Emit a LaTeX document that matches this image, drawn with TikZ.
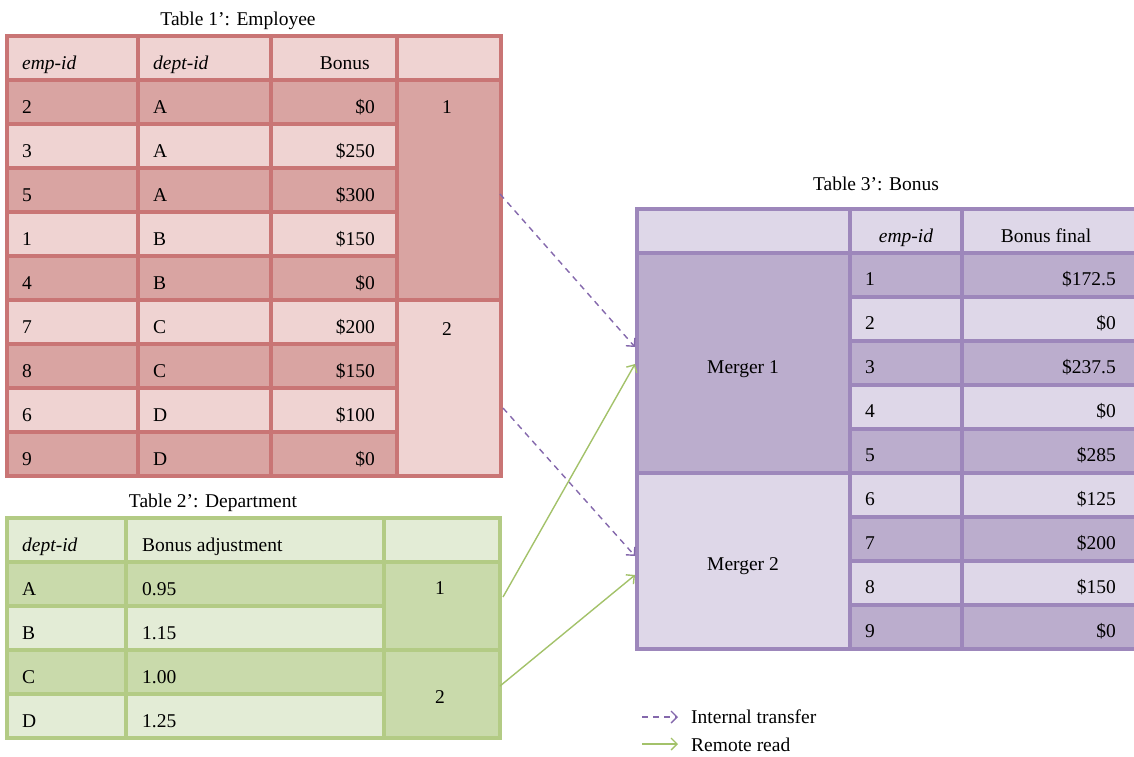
\documentclass[tikz,border=0pt]{standalone}
\usepackage{fontspec}
\setmainfont{Liberation Serif}
\usetikzlibrary{arrows.meta}
\definecolor{redline}{HTML}{C97575}
\definecolor{redlight}{HTML}{EFD3D2}
\definecolor{reddark}{HTML}{D9A4A2}
\definecolor{grnline}{HTML}{B3CB85}
\definecolor{grnlight}{HTML}{E3ECD6}
\definecolor{grndark}{HTML}{C9DAAB}
\definecolor{purline}{HTML}{9D87BB}
\definecolor{purlight}{HTML}{DED7E8}
\definecolor{purdark}{HTML}{BBADCD}
\definecolor{arrpur}{HTML}{8468AC}
\definecolor{arrgrn}{HTML}{A3C26A}
\begin{document}
\begin{tikzpicture}[x=1pt,y=-1pt,
  font=\fontsize{19.5}{23}\selectfont,
  txt/.style={inner sep=0pt, text=black, anchor=base},
  lt/.style={txt, anchor=base west},
  rt/.style={txt, anchor=base east},
  redcell/.style={draw=redline, line width=3.2pt},
  grncell/.style={draw=grnline, line width=3.2pt},
  purcell/.style={draw=purline, line width=3.2pt},
  transfer/.style={draw=arrpur, line width=1.4pt, dash pattern=on 6pt off 5pt,
    -{Straight Barb[length=6pt,width=12pt,line width=1.4pt]}},
  remote/.style={draw=arrgrn, line width=1.4pt,
    -{Straight Barb[length=6pt,width=12pt,line width=1.4pt]}}]
\useasboundingbox (0,0) rectangle (1134,756);

% ---------- Table 1': Employee ----------
\node[txt] (t1title) at (238,25) {Table 1’: Employee};
\filldraw[redcell, fill=redlight] (7,36) rectangle (138,80);
\filldraw[redcell, fill=redlight] (138,36) rectangle (271,80);
\filldraw[redcell, fill=redlight] (271,36) rectangle (397,80);
\filldraw[redcell, fill=redlight] (397,36) rectangle (501,80);
\node[lt] (t1h1) at (22,69) {\itshape emp-id};
\node[lt] (t1h2) at (153,69) {\itshape dept-id};
\node[rt] (t1h3) at (370,69) {Bonus};
\foreach \e/\d/\b [count=\i] in {2/A/0,3/A/250,5/A/300,1/B/150,4/B/0,7/C/200,8/C/150,6/D/100,9/D/0}{
  \pgfmathsetmacro\yt{80+44*(\i-1)}
  \pgfmathsetmacro\yb{\yt+44}
  \pgfmathsetmacro\ym{\yt+33}
  \ifodd\i\relax\def\fc{reddark}\else\def\fc{redlight}\fi
  \filldraw[redcell, fill=\fc] (7,\yt) rectangle (138,\yb);
  \filldraw[redcell, fill=\fc] (138,\yt) rectangle (271,\yb);
  \filldraw[redcell, fill=\fc] (271,\yt) rectangle (397,\yb);
  \node[lt] (t1e\i) at (22,\ym) {\e};
  \node[lt] (t1d\i) at (153,\ym) {\d};
  \node[rt] (t1b\i) at (375,\ym) {\$\b};
}
\filldraw[redcell, fill=reddark] (397,80) rectangle (501,300);
\filldraw[redcell, fill=redlight] (397,300) rectangle (501,476);
\node[txt] (t1g1) at (447,113) {1};
\node[txt] (t1g2) at (447,335) {2};

% ---------- Table 2': Department ----------
\node[txt] (t2title) at (213,507) {Table 2’: Department};
\filldraw[grncell, fill=grnlight] (7,518) rectangle (126,562);
\filldraw[grncell, fill=grnlight] (126,518) rectangle (384,562);
\filldraw[grncell, fill=grnlight] (384,518) rectangle (500,562);
\node[lt] (t2h1) at (22,551) {\itshape dept-id};
\node[lt] (t2h2) at (142,551) {Bonus adjustment};
\foreach \d/\a [count=\i] in {A/0.95,B/1.15,C/1.00,D/1.25}{
  \pgfmathsetmacro\yt{562+44*(\i-1)}
  \pgfmathsetmacro\yb{\yt+44}
  \pgfmathsetmacro\ym{\yt+33}
  \ifodd\i\relax\def\fc{grndark}\else\def\fc{grnlight}\fi
  \filldraw[grncell, fill=\fc] (7,\yt) rectangle (126,\yb);
  \filldraw[grncell, fill=\fc] (126,\yt) rectangle (384,\yb);
  \node[lt] (t2d\i) at (22,\ym) {\d};
  \node[lt] (t2a\i) at (142,\ym) {\a};
}
\filldraw[grncell, fill=grndark] (384,562) rectangle (500,650);
\filldraw[grncell, fill=grndark] (384,650) rectangle (500,738);
\node[txt] (t2g1) at (440,594) {1};
\node[txt] (t2g2) at (440,703) {2};

% ---------- Table 3': Bonus ----------
\node[txt] (t3title) at (876,190) {Table 3’: Bonus};
\filldraw[purcell, fill=purlight] (637,209) rectangle (850,253);
\filldraw[purcell, fill=purlight] (850,209) rectangle (962,253);
\filldraw[purcell, fill=purlight] (962,209) rectangle (1137,253);
\node[txt] (t3h2) at (906,242) {\itshape emp-id};
\node[txt] (t3h3) at (1046,242) {Bonus final};
\foreach \e/\b [count=\i] in {1/172.5,2/0,3/237.5,4/0,5/285,6/125,7/200,8/150,9/0}{
  \pgfmathsetmacro\yt{253+44*(\i-1)}
  \pgfmathsetmacro\yb{\yt+44}
  \pgfmathsetmacro\ym{\yt+32.5}
  \ifodd\i\relax\def\fc{purdark}\else\def\fc{purlight}\fi
  \filldraw[purcell, fill=\fc] (850,\yt) rectangle (962,\yb);
  \filldraw[purcell, fill=\fc] (962,\yt) rectangle (1137,\yb);
  \node[lt] (t3e\i) at (865,\ym) {\e};
  \node[rt] (t3b\i) at (1116,\ym) {\$\b};
}
\filldraw[purcell, fill=purdark] (637,253) rectangle (850,473);
\filldraw[purcell, fill=purlight] (637,473) rectangle (850,649);
\node[txt] (m1) at (743,373) {Merger 1};
\node[txt] (m2) at (743,570) {Merger 2};

% ---------- connectors ----------
\coordinate (d1s) at (500,194);
\coordinate (d1e) at (635,347);
\coordinate (d2s) at (503,408);
\coordinate (d2e) at (635,556);
\coordinate (g1s) at (503,597);
\coordinate (g1e) at (635,364);
\coordinate (g2s) at (500,686);
\coordinate (g2e) at (635,575);
\draw[transfer] (d1s) -- (d1e);
\draw[transfer] (d2s) -- (d2e);
\draw[remote] (g1s) -- (g1e);
\draw[remote] (g2s) -- (g2e);

% ---------- legend ----------
\coordinate (l1s) at (642,717);
\coordinate (l1e) at (678,717);
\coordinate (l2s) at (642,744);
\coordinate (l2e) at (678,744);
\draw[transfer] (l1s) -- (l1e);
\draw[remote] (l2s) -- (l2e);
\node[lt] (l1t) at (691,723) {Internal transfer};
\node[lt] (l2t) at (691,751) {Remote read};
\end{tikzpicture}
\end{document}
